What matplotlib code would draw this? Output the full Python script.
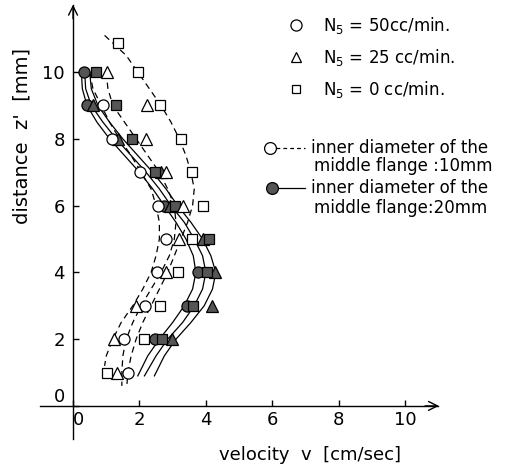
import matplotlib
matplotlib.use('Agg')
import matplotlib.pyplot as plt

plt.rcParams['font.family'] = ['DejaVu Sans']
plt.rcParams['mathtext.default'] = 'regular'

# measured points, inner diameter 10 mm (open markers)
z_c10 = [9, 8, 7, 6, 5, 4, 3, 2, 1]
v_c10 = [0.91, 1.16, 2.02, 2.57, 2.79, 2.52, 2.17, 1.52, 1.67]
z_t10 = [10, 9, 8, 7, 6, 5, 4, 3, 2, 1]
v_t10 = [1.01, 2.22, 2.19, 2.79, 3.32, 3.19, 2.79, 1.89, 1.24, 1.32]
z_s10 = [10.87, 10, 9, 8, 7, 6, 5, 4, 3, 2, 1]
v_s10 = [1.36, 1.97, 2.62, 3.25, 3.59, 3.92, 3.57, 3.17, 2.62, 2.15, 1.01]

# measured points, inner diameter 20 mm (filled markers)
z_c20 = [10, 9, 6, 4, 3, 2]
v_c20 = [0.34, 0.41, 2.75, 3.77, 3.42, 2.47]
z_t20 = [9, 8, 7, 6, 5, 4, 3, 2]
v_t20 = [0.61, 1.35, 2.65, 2.92, 3.9, 4.28, 4.18, 2.97]
z_s20 = [10, 9, 8, 7, 6, 5, 4, 3, 2]
v_s20 = [0.68, 1.29, 1.79, 2.47, 3.07, 4.1, 4.03, 3.62, 2.69]

# hand drawn curves
zc_c10 = [10, 9.5, 9, 8.5, 8, 7.5, 7, 6.5, 6, 5.5, 5, 4.5, 4, 3.5, 3, 2.5, 2, 1.5, 1.2]
vc_c10 = [0.5, 0.6, 0.85, 1.1, 1.4, 1.75, 2.05, 2.35, 2.5, 2.6, 2.6, 2.5, 2.35, 2.1, 1.8, 1.45, 1.2, 1.0, 0.95]
zc_t10 = [10, 9.5, 9, 8.5, 8, 7.5, 7, 6.5, 6, 5.5, 5, 4.5, 4, 3.5, 3, 2.5, 2, 1.5, 1.0, 0.6]
vc_t10 = [1.0, 1.05, 1.2, 1.55, 1.9, 2.25, 2.6, 2.85, 3.05, 3.1, 3.05, 2.9, 2.65, 2.35, 2.05, 1.8, 1.6, 1.5, 1.47, 1.47]
zc_s10 = [11.1, 10.5, 10, 9.5, 9, 8.5, 8, 7.5, 7, 6.5, 6, 5.5, 5, 4.5, 4, 3.5, 3, 2.5, 2, 1.5, 1.0, 0.6]
vc_s10 = [0.95, 1.6, 1.95, 2.3, 2.65, 2.95, 3.2, 3.4, 3.55, 3.65, 3.6, 3.45, 3.25, 3.05, 2.85, 2.6, 2.35, 2.1, 1.9, 1.75, 1.65, 1.62]

zc_20 = [10, 9.5, 9, 8.5, 8, 7.5, 7, 6.5, 6, 5.5, 5, 4.5, 4, 3.5, 3, 2.5, 2, 1.5, 0.9]
vc_c20 = [0.25, 0.28, 0.42, 0.72, 1.1, 1.55, 2.0, 2.4, 2.75, 3.1, 3.4, 3.62, 3.7, 3.6, 3.35, 3.0, 2.6, 2.25, 1.95]
vc_t20 = [0.35, 0.38, 0.55, 0.9, 1.3, 1.75, 2.2, 2.6, 2.95, 3.35, 3.65, 3.9, 4.0, 3.9, 3.65, 3.3, 2.85, 2.5, 2.15]
vc_s20 = [0.5, 0.55, 0.75, 1.1, 1.5, 1.95, 2.4, 2.8, 3.15, 3.55, 3.9, 4.15, 4.3, 4.2, 3.95, 3.55, 3.1, 2.75, 2.45]

legend_rates = ['N$_5$ = 50cc/min.', 'N$_5$ = 25 cc/min.', 'N$_5$ = 0 cc/min.']

fig = plt.figure(figsize=(5.12, 4.67), dpi=100)
ax = fig.add_axes([0, 0, 1, 1])
ax.set_xlim(-2.2, 13.22)
ax.set_ylim(-1.83, 12.16)

dash = (0, (5, 3.5))
lw = 0.9
for v, z in [(vc_c10, zc_c10), (vc_t10, zc_t10), (vc_s10, zc_s10)]:
    ax.plot(v, z, color='black', lw=lw, ls=dash, zorder=2)
for v in [vc_c20, vc_t20, vc_s20]:
    ax.plot(v, zc_20, color='black', lw=lw, zorder=2)

fill = '#555555'
ax.plot(v_c10, z_c10, 'o', ms=8, mfc='white', mec='black', mew=0.9, zorder=4)
ax.plot(v_t10, z_t10, '^', ms=8, mfc='white', mec='black', mew=0.9, zorder=4)
ax.plot(v_s10, z_s10, 's', ms=7, mfc='white', mec='black', mew=0.9, zorder=4)
ax.plot(v_c20, z_c20, 'o', ms=8, mfc=fill, mec='black', mew=0.9, zorder=3)
ax.plot(v_t20, z_t20, '^', ms=8, mfc=fill, mec='black', mew=0.9, zorder=3)
ax.plot(v_s20, z_s20, 's', ms=7, mfc=fill, mec='black', mew=0.9, zorder=3)

# axes through the origin with arrows
for s in ['top', 'right']:
    ax.spines[s].set_visible(False)
ax.spines['left'].set_position(('data', 0))
ax.spines['bottom'].set_position(('data', 0))
ax.spines['left'].set_bounds(-1, 12)
ax.spines['bottom'].set_bounds(-1, 11)
ax.spines['left'].set_linewidth(1.0)
ax.spines['bottom'].set_linewidth(1.0)
ax.annotate('', xy=(0, 12.02), xytext=(0, 11.6),
            arrowprops=dict(arrowstyle='->', lw=1.0, mutation_scale=16, shrinkA=0, shrinkB=0))
ax.annotate('', xy=(11.02, 0), xytext=(10.6, 0),
            arrowprops=dict(arrowstyle='->', lw=1.0, mutation_scale=16, shrinkA=0, shrinkB=0))

ax.set_xticks([0, 2, 4, 6, 8, 10])
ax.set_yticks([0, 2, 4, 6, 8, 10])
ax.tick_params(direction='in', length=4, width=1.0, labelsize=13)
ax.tick_params(axis='x', pad=4)
ax.tick_params(axis='y', pad=6)
for lab in ax.get_xticklabels():
    if lab.get_text() == '0':
        lab.set_horizontalalignment('left')
for lab in ax.get_yticklabels():
    if lab.get_text() == '0':
        lab.set_verticalalignment('bottom')

ax.text(-1.55, 8.1, "distance  z'  [mm]", rotation=90, fontsize=14,
        ha='center', va='center')
ax.text(7.14, -1.47, 'velocity  v  [cm/sec]', fontsize=13,
        ha='center', va='center')

# legend drawn by hand
for mk, ms, zz, lab in zip(['o', '^', 's'], [8, 6.5, 6], [11.41, 10.45, 9.49], legend_rates):
    ax.plot([6.72], [zz], mk, ms=ms, mfc='white', mec='black', mew=0.9)
    ax.text(7.53, zz, lab, fontsize=12, va='center')

ax.plot([6.1, 7.0], [7.72, 7.72], color='black', lw=lw, ls=(0, (3, 2.5)))
ax.plot([5.93], [7.72], 'o', ms=8.5, mfc='white', mec='black', mew=0.9)
ax.text(7.16, 7.72, 'inner diameter of the', fontsize=12, va='center')
ax.text(7.26, 7.2, 'middle flange :10mm', fontsize=12, va='center')

ax.plot([6.1, 7.0], [6.53, 6.53], color='black', lw=lw)
ax.plot([5.99], [6.53], 'o', ms=8.5, mfc=fill, mec='black', mew=0.9)
ax.text(7.16, 6.53, 'inner diameter of the', fontsize=12, va='center')
ax.text(7.26, 5.93, 'middle flange:20mm', fontsize=12, va='center')

fig.savefig('out.png', dpi=100)
